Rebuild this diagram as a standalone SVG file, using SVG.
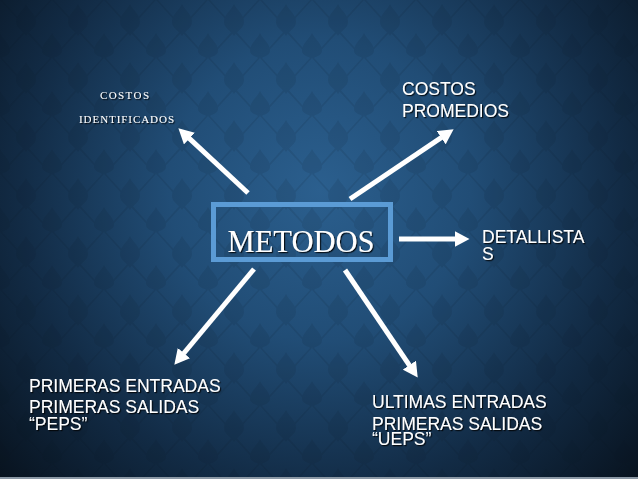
<svg xmlns="http://www.w3.org/2000/svg" width="638" height="479" viewBox="0 0 638 479">
  <defs>
    <radialGradient id="bg" cx="320" cy="190" r="430" gradientUnits="userSpaceOnUse">
      <stop offset="0" stop-color="#2b5f8e"/>
      <stop offset="0.35" stop-color="#214d76"/>
      <stop offset="0.7" stop-color="#122b45"/>
      <stop offset="1" stop-color="#08131f"/>
    </radialGradient>
    <pattern id="damask" width="52" height="58" patternUnits="userSpaceOnUse">
      <g fill="#06111d">
        <path d="M26 4 C30 12 36 14 36 22 C36 28 30 30 26 36 C22 30 16 28 16 22 C16 14 22 12 26 4 Z"/>
        <path d="M0 33 C4 41 10 43 10 51 C10 55 4 57 0 58 L0 33 Z"/>
        <path d="M52 33 C48 41 42 43 42 51 C42 55 48 57 52 58 L52 33 Z"/>
        <path d="M0 0 L26 29 L52 0 L50 0 L26 26 L2 0 Z"/>
        <path d="M0 58 L26 29 L52 58 L50 58 L26 32 L2 58 Z"/>
      </g>
    </pattern>
    <filter id="shadow" x="-10%" y="-20%" width="130%" height="150%">
      <feDropShadow dx="1.2" dy="1.2" stdDeviation="0.6" flood-color="#000000" flood-opacity="0.8"/>
    </filter>
    <marker id="head" markerUnits="userSpaceOnUse" markerWidth="16" markerHeight="16" refX="0.5" refY="8" orient="auto">
      <path d="M0 0 L15 8 L0 16 Z" fill="#ffffff"/>
    </marker>
    <style>
      .sans { font-family: "Liberation Sans", Arial, sans-serif; font-size: 17.5px; fill: #ffffff; filter: url(#shadow); }
      .serif { font-family: "Liberation Serif", "Times New Roman", serif; fill: #ffffff; filter: url(#shadow); }
      .arrow { stroke: #ffffff; stroke-width: 5; fill: none; marker-end: url(#head); }
    </style>
  </defs>

  <rect x="0" y="0" width="638" height="479" fill="url(#bg)"/>
  <rect x="0" y="0" width="638" height="479" fill="url(#damask)" opacity="0.1"/>
  <rect x="0" y="477" width="638" height="2" fill="#8b98a5"/>

  <g id="connectors">
    <line class="arrow" x1="248" y1="193" x2="189" y2="138.2"/>
    <line class="arrow" x1="350" y1="199" x2="441.6" y2="137.4"/>
    <line class="arrow" x1="399" y1="239" x2="455" y2="239"/>
    <line class="arrow" x1="254" y1="269" x2="183.6" y2="353.5"/>
    <line class="arrow" x1="345" y1="270" x2="409.6" y2="365.6"/>
  </g>

  <g id="metodos">
    <rect x="213.5" y="204.5" width="177" height="55" fill="none" stroke="#5b9bd5" stroke-width="5"/>
    <text class="serif" x="301" y="252" font-size="30.5" text-anchor="middle">METODOS</text>
  </g>

  <g id="costos-identificados">
    <text class="serif" font-size="11" text-anchor="middle"><tspan x="124.5" y="99" textLength="49" lengthAdjust="spacing">COSTOS</tspan><tspan x="126.5" y="123" textLength="95" lengthAdjust="spacing">IDENTIFICADOS</tspan></text>
  </g>

  <g id="costos-promedios">
    <text class="sans"><tspan x="402" y="95">COSTOS</tspan><tspan x="402" y="117">PROMEDIOS</tspan></text>
  </g>

  <g id="detallistas">
    <text class="sans"><tspan x="482" y="243">DETALLISTA</tspan><tspan x="482" y="260">S</tspan></text>
  </g>

  <g id="peps">
    <text class="sans"><tspan x="29" y="392">PRIMERAS ENTRADAS</tspan><tspan x="29" y="413">PRIMERAS SALIDAS</tspan><tspan x="29" y="430">“PEPS”</tspan></text>
  </g>

  <g id="ueps">
    <text class="sans"><tspan x="372" y="408">ULTIMAS ENTRADAS</tspan><tspan x="372" y="430">PRIMERAS SALIDAS</tspan><tspan x="372" y="445">“UEPS”</tspan></text>
  </g>
</svg>
